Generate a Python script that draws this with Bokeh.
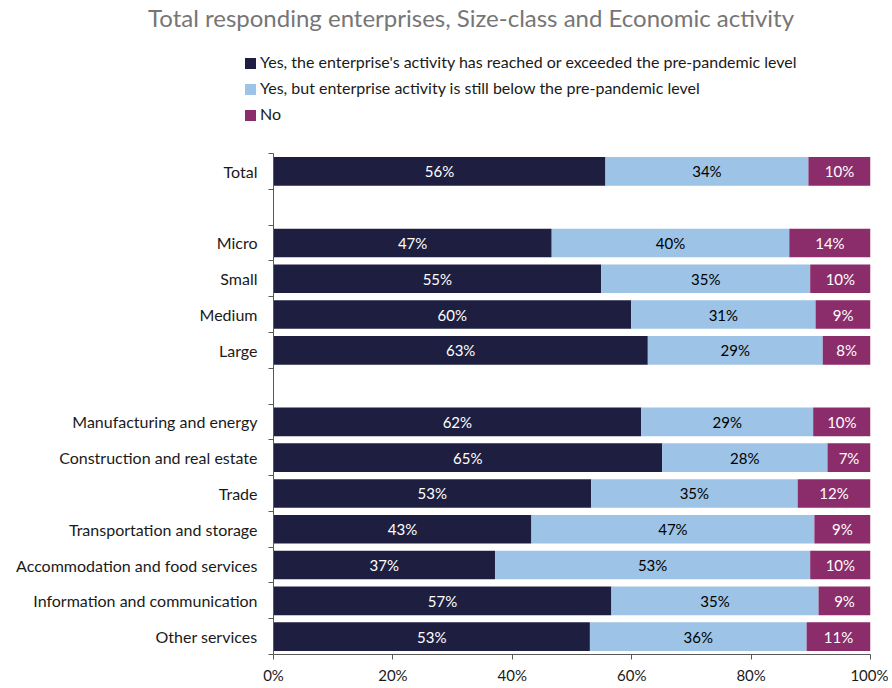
from bokeh.plotting import figure
from bokeh.layouts import column
from bokeh.models import Range1d, FixedTicker, Div, ColumnDataSource, PrintfTickFormatter
from bokeh.core.properties import value
from bokeh.embed import file_html
from bokeh.resources import INLINE

title_text = "Total responding enterprises, Size-class and Economic activity"
series_names = [
    "Yes, the enterprise's activity has reached or exceeded the pre-pandemic level",
    "Yes, but enterprise activity is still below the pre-pandemic level",
    "No",
]
colors = ["#1e1f40", "#9dc3e6", "#8b2d6a"]
label_colors = ["white", "black", "white"]

groups = [
    ["Total"],
    ["Micro", "Small", "Medium", "Large"],
    ["Manufacturing and energy", "Construction and real estate", "Trade",
     "Transportation and storage", "Accommodation and food services",
     "Information and communication", "Other services"],
]
reached = [55.6, 46.6, 54.9, 59.9, 62.7, 61.6, 65.1, 53.2, 43.2, 37.1, 56.6, 53.0]
below = [34.0, 39.8, 35.0, 30.9, 29.3, 28.8, 27.7, 34.6, 47.4, 52.8, 34.7, 36.3]
no = [10.4, 13.6, 10.1, 9.2, 8.0, 9.6, 7.2, 12.2, 9.4, 10.1, 8.7, 10.7]
x_ticks = [0, 20, 40, 60, 80, 100]

# row positions: one blank row between groups
cats, ypos = [], []
row = 0
for gi, g in enumerate(groups):
    if gi > 0:
        row += 1
    for c in g:
        cats.append(c)
        ypos.append(row)
        row += 1
nrows = row

FONT = "Lato"
W = 888
TOP_H = 140
TXT = "#1a1a1a"

# ---------- header: title + legend (HTML text) ----------
legend_rows = ""
for i, (name, col) in enumerate(zip(series_names, colors)):
    legend_rows += (
        '<div style="position:absolute;left:245px;top:%dpx;height:20px;line-height:20px;'
        'white-space:nowrap;font-size:16px;color:%s;">'
        '<span style="display:inline-block;width:11px;height:11px;background:%s;'
        'margin-right:4px;vertical-align:-1px;"></span>%s</div>' % (52 + 26 * i, TXT, col, name)
    )
header_html = (
    '<div style="position:relative;width:%dpx;height:%dpx;font-family:%s;">'
    '<div style="position:absolute;left:148px;top:4px;font-size:24px;line-height:28px;'
    'white-space:nowrap;color:#767676;">%s</div>%s</div>'
    % (W, TOP_H, FONT, title_text, legend_rows)
)
head = Div(text=header_html, width=W, height=TOP_H, margin=0)

# ---------- bar chart ----------
src = ColumnDataSource(dict(y=ypos, reached=reached, below=below, no=no))
p = figure(width=W, height=686 - TOP_H, output_backend="svg", toolbar_location=None,
           x_range=Range1d(0, 100), y_range=Range1d(nrows - 0.5, -0.5),
           min_border_left=273, min_border_right=18, min_border_top=13,
           min_border_bottom=29, title=None)
p.outline_line_color = None
p.xgrid.visible = False
p.ygrid.visible = False

p.hbar_stack(["reached", "below", "no"], y="y", height=0.8,
             color=colors, source=src, line_color=None)

series = [reached, below, no]
left = [0.0] * len(cats)
for s, tc in zip(series, label_colors):
    mids = [l + v / 2 for l, v in zip(left, s)]
    texts = ["%d%%" % int(v + 0.5) for v in s]
    p.text(x=mids, y=ypos, text=texts, text_align="center", text_baseline="middle",
           text_color=tc, text_font=value(FONT), text_font_size="15px")
    left = [l + v for l, v in zip(left, s)]

axis_col = "#595959"
p.xaxis.ticker = FixedTicker(ticks=x_ticks)
p.xaxis.formatter = PrintfTickFormatter(format="%d%%")
p.xaxis.axis_line_color = axis_col
p.xaxis.major_tick_line_color = axis_col
p.xaxis.major_tick_out = 5
p.xaxis.major_tick_in = 0
p.xaxis.minor_tick_line_color = None
p.xaxis.major_label_standoff = 6
p.xaxis.major_label_text_font = FONT
p.xaxis.major_label_text_font_size = "15px"
p.xaxis.major_label_text_color = TXT

p.yaxis.ticker = FixedTicker(ticks=ypos, minor_ticks=[i - 0.5 for i in range(nrows + 1)])
p.yaxis.major_label_overrides = {y: c for y, c in zip(ypos, cats)}
p.yaxis.axis_line_color = axis_col
p.yaxis.major_tick_line_color = None
p.yaxis.major_tick_out = 0
p.yaxis.major_tick_in = 0
p.yaxis.minor_tick_line_color = axis_col
p.yaxis.minor_tick_out = 5
p.yaxis.minor_tick_in = 0
p.yaxis.major_label_standoff = 11
p.yaxis.major_label_text_font = FONT
p.yaxis.major_label_text_font_size = "16px"
p.yaxis.major_label_text_color = TXT

layout = column(head, p, spacing=0)
open("out.html", "w").write(file_html(layout, INLINE))
